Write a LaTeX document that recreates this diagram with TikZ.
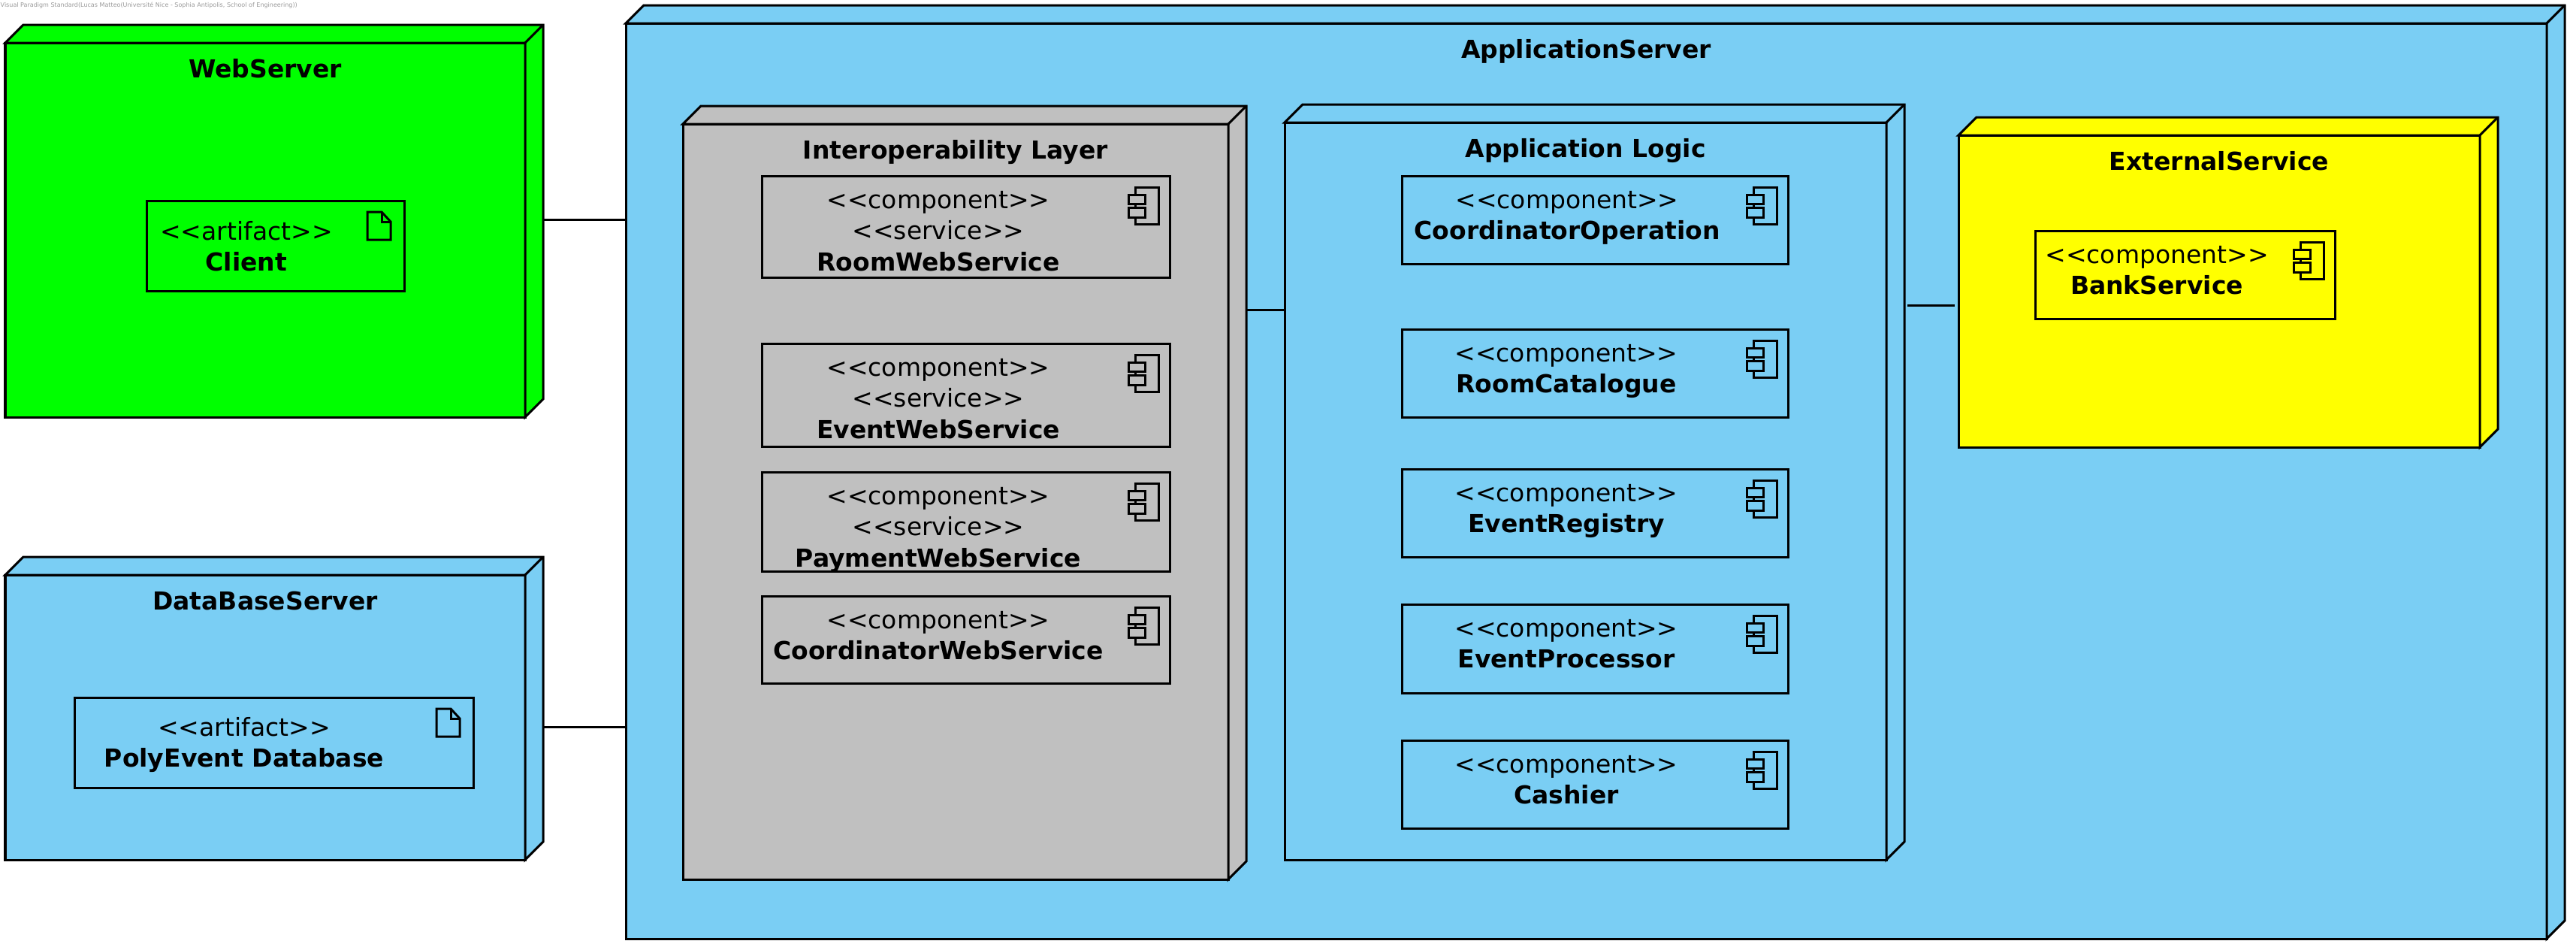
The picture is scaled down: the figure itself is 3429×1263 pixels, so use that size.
\documentclass[tikz,border=0pt]{standalone}
\usepackage{fontspec}
\usepackage{xcolor}
\usetikzlibrary{positioning,calc}
\newfontfamily\umlfont{DejaVu Sans}
\definecolor{vpblue}{HTML}{7ACEF4}
\definecolor{vpgrey}{HTML}{C0C0C0}
\definecolor{vpgreen}{HTML}{00FF00}
\definecolor{vpyellow}{HTML}{FFFF00}
\tikzset{
  umltext/.style={inner sep=0pt,anchor=north,align=center,font=\umlfont\fontsize{9.38}{11.9}\selectfont},
  umlline/.style={draw=black,line width=0.03cm,line join=miter},
  umlface/.style={umlline,anchor=north west,inner sep=0pt,outer sep=0pt},
  connector/.style={draw=black,line width=0.03cm}
}
% id, x, y, width, height, fill, title
\newcommand{\deploynode}[7]{%
  \node[umlface,fill=#6,minimum width=#4*0.01cm,minimum height=#5*0.01cm] (#1) at (#2,#3) {};
  \draw[umlline,fill=#6] (#1.north west) -- ++(24,-24) -- ++(#4,0) -- ++(0,#5)
        -- (#1.south east) -- (#1.north east) -- cycle;
  \draw[umlline] (#1.north east) -- ++(24,-24);
  \node[umltext] (#1title) at ($(#1.north)+(0,16)$) {\nm{#7}};
}
% id, x, y, width, height, text x, text offset, text
\newcommand{\umlbox}[8]{%
  \node[umlface,minimum width=#4*0.01cm,minimum height=#5*0.01cm] (#1) at (#2,#3) {};
  \node[umltext] (#1text) at ($(#6,0)+(0,#3)+(0,#7)$) {#8};
}
\newcommand{\compicon}[1]{%
  \draw[umlline] ($(#1.north east)+(-46,25)$) -- ($(#1.north east)+(-46,15)$) -- ($(#1.north east)+(-15,15)$)
        -- ($(#1.north east)+(-15,64)$) -- ($(#1.north east)+(-46,64)$) -- ($(#1.north east)+(-46,55)$);
  \draw[umlline] ($(#1.north east)+(-46,37)$) -- ($(#1.north east)+(-46,42)$);
  \draw[umlline] ($(#1.north east)+(-55,25)$) rectangle ($(#1.north east)+(-33,37)$);
  \draw[umlline] ($(#1.north east)+(-55,42)$) rectangle ($(#1.north east)+(-33,55)$);
}
\newcommand{\artfile}[1]{%
  \draw[umlline] ($(#1.north east)+(-30,15)$) -- ($(#1.north east)+(-49,15)$)
        -- ($(#1.north east)+(-49,52)$) -- ($(#1.north east)+(-18,52)$)
        -- ($(#1.north east)+(-18,28)$) -- cycle;
  \draw[umlline] ($(#1.north east)+(-30,15)$) -- ($(#1.north east)+(-30,28)$) -- ($(#1.north east)+(-18,28)$);
}
\newcommand{\nm}[1]{\strut\textbf{#1}}
\newcommand{\cpt}{\strut<<component>>}
\newcommand{\srv}{\strut<<service>>}
\newcommand{\art}{\strut<<artifact>>}
\begin{document}
\begin{tikzpicture}[x=0.01cm,y=-0.01cm]
  \useasboundingbox (0,0) rectangle (3429,1263);
  \node[inner sep=0pt,anchor=west,text=black!40,font=\umlfont\fontsize{2.28}{2.7}\selectfont] (watermark) at (0,7)
        {Visual Paradigm Standard(Lucas Matteo(Université Nice - Sophia Antipolis, School of Engineering))};

  \deploynode{webserver}{7}{57}{692}{498}{vpgreen}{WebServer}
  \umlbox{client}{195}{267}{343}{120}{328}{22}{\art\\\nm{Client}}
  \artfile{client}

  \deploynode{dbserver}{7}{765}{692}{379}{vpblue}{DataBaseServer}
  \umlbox{polyevent}{99}{928}{531}{120}{325}{21}{\art\\\nm{PolyEvent Database}}
  \artfile{polyevent}

  \deploynode{appserver}{833}{31}{2557}{1218}{vpblue}{ApplicationServer}

  \deploynode{interop}{909}{165}{726}{1005}{vpgrey}{Interoperability Layer}
  \umlbox{roomws}{1014}{234}{543}{135}{1249}{13}{\cpt\\\srv\\\nm{RoomWebService}}
  \compicon{roomws}
  \umlbox{eventws}{1014}{457}{543}{137}{1249}{13}{\cpt\\\srv\\\nm{EventWebService}}
  \compicon{eventws}
  \umlbox{paymentws}{1014}{628}{543}{132}{1249}{13}{\cpt\\\srv\\\nm{PaymentWebService}}
  \compicon{paymentws}
  \umlbox{coordws}{1014}{793}{543}{116}{1249}{13}{\cpt\\\nm{CoordinatorWebService}}
  \compicon{coordws}

  \deploynode{applogic}{1710}{163}{801}{981}{vpblue}{Application Logic}
  \umlbox{coordop}{1866}{234}{514}{117}{2086}{13}{\cpt\\\nm{CoordinatorOperation}}
  \compicon{coordop}
  \umlbox{catalogue}{1866}{438}{514}{117}{2085}{13}{\cpt\\\nm{RoomCatalogue}}
  \compicon{catalogue}
  \umlbox{registry}{1866}{624}{514}{117}{2085}{13}{\cpt\\\nm{EventRegistry}}
  \compicon{registry}
  \umlbox{processor}{1866}{804}{514}{118}{2085}{13}{\cpt\\\nm{EventProcessor}}
  \compicon{processor}
  \umlbox{cashier}{1866}{985}{514}{117}{2085}{13}{\cpt\\\nm{Cashier}}
  \compicon{cashier}

  \deploynode{external}{2607}{180}{694}{415}{vpyellow}{ExternalService}
  \umlbox{bank}{2709}{307}{399}{117}{2871}{13}{\cpt\\\nm{BankService}}
  \compicon{bank}

  % links between the nodes
  \coordinate (webport) at (723,292);
  \coordinate (dbport) at (723,967);
  \coordinate (interopport) at (1660,412);
  \coordinate (logicport) at (2539,406);
  \coordinate (extport) at (2602,406);
  \draw[connector] (webport) -- (webport -| appserver.west);
  \draw[connector] (dbport) -- (dbport -| appserver.west);
  \draw[connector] (interopport) -- (interopport -| applogic.west);
  \draw[connector] (logicport) -- (extport);
\end{tikzpicture}
\end{document}
